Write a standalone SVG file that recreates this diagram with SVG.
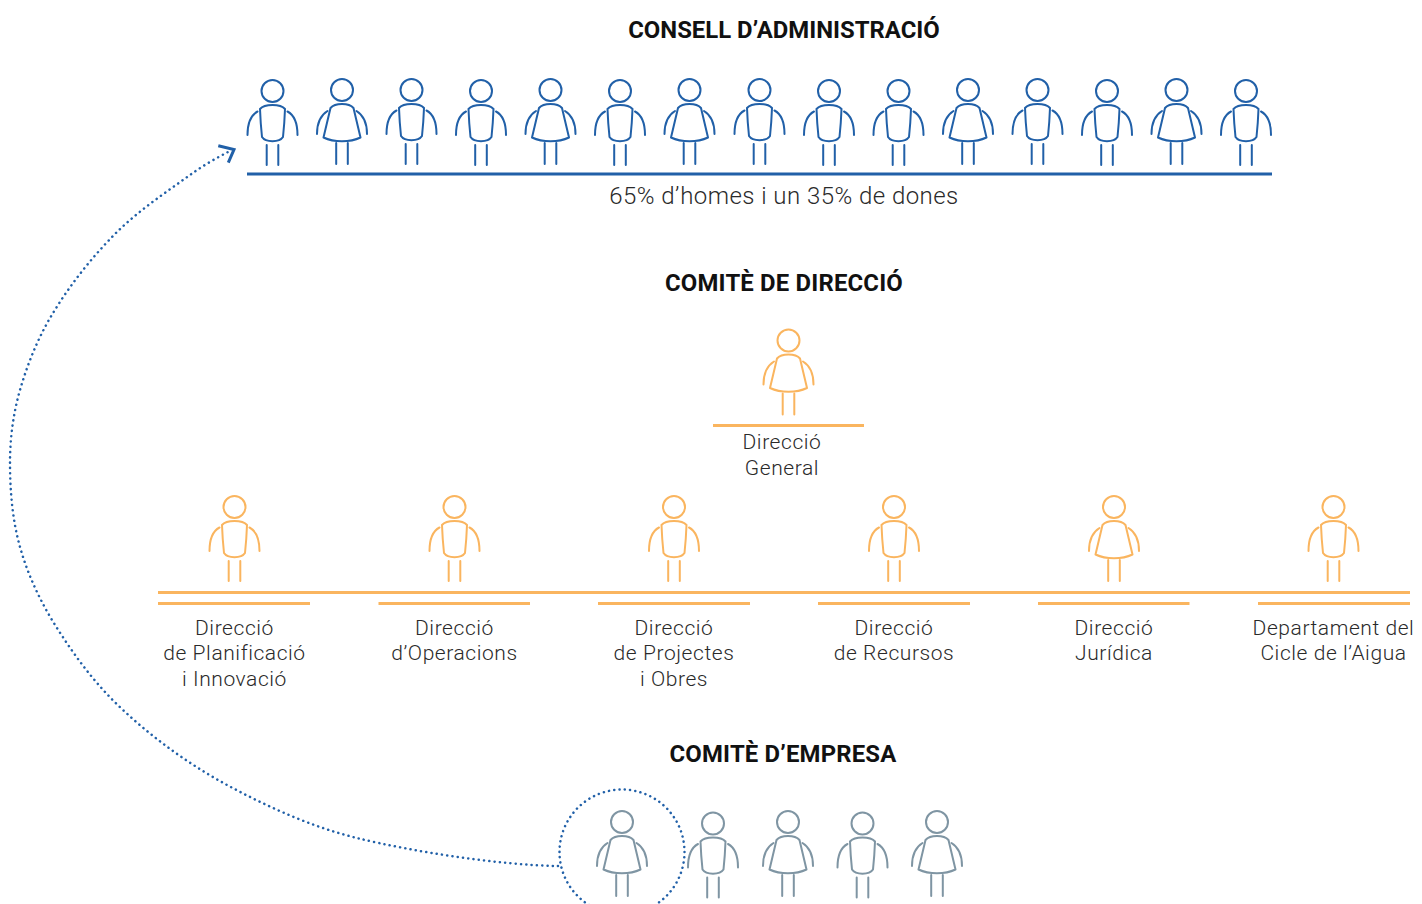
<svg xmlns="http://www.w3.org/2000/svg" width="1422" height="904" viewBox="0 0 1422 904">
<style>
.p{fill:none;stroke-width:2;stroke-linecap:round;stroke-linejoin:round}
.b{stroke:#2160a8}.o{stroke:#fab55f}.g{stroke:#7f95a3}
.t{font-family:"Roboto","Liberation Sans",sans-serif;font-weight:700;font-size:23.900px;fill:#111;text-anchor:middle}
.s{letter-spacing:.18px}
.l{font-family:"Roboto","Liberation Sans",sans-serif;font-weight:300;font-size:21px;fill:#2a2a2a;text-anchor:middle;letter-spacing:.57px}
.r{fill:none;stroke-width:3;stroke-linecap:butt}
.d{fill:none;stroke:#2160a8;stroke-width:2.500;stroke-dasharray:.1 5.200;stroke-linecap:round}
</style>
<defs>
<g id="m"><circle cx="0" cy="0" r="11"/><path d="M-12.500 18C-8 12.500 8 12.500 12.500 18Q12 32 10.500 46C7 51.500-7 51.500-10.500 46Q-12 32-12.500 18Z"/><path d="M-15 20.500C-21.500 24-25 33-25 44M15 20.500C21.500 24 25 33 25 44M-5.800 54V74M5.800 54V74"/></g>
<g id="f"><circle cx="0" cy="0" r="11"/><path d="M-11.500 18C-7 12.500 7 12.500 11.500 18L18.500 47.500C8 52.500-8 52.500-18.500 47.500Z"/><path d="M-14.500 21C-21 25-25 33-25 44M14.500 21C21 25 25 33 25 44M-5.800 53V74M5.800 53V74"/></g>
</defs>
<text class="t" x="784" y="38">CONSELL D’ADMINISTRACIÓ</text>
<text class="t s" x="784" y="291">COMITÈ DE DIRECCIÓ</text>
<text class="t s" x="783" y="762">COMITÈ D’EMPRESA</text>
<g id="board" class="p b">
<use href="#m" x="272.500" y="91"/><use href="#f" x="342" y="90"/><use href="#m" x="411.500" y="90"/><use href="#m" x="481" y="91"/><use href="#f" x="550.500" y="90"/><use href="#m" x="620" y="91"/><use href="#f" x="689.500" y="90"/><use href="#m" x="759.500" y="90"/><use href="#m" x="829" y="91"/><use href="#m" x="898.500" y="91"/><use href="#f" x="968" y="90"/><use href="#m" x="1037.500" y="90"/><use href="#m" x="1107" y="91"/><use href="#f" x="1176.500" y="90"/><use href="#m" x="1246" y="91"/>
<path class="r" d="M247 174H1272"/>
</g>
<text class="l" x="784" y="204" style="font-size:24px;letter-spacing:.45px">65% d’homes i un 35% de dones</text>
<g id="direccio-general" class="p o">
<use href="#f" x="788.500" y="340.500"/><path class="r" d="M713 425.500H864"/>
</g>
<text class="l" x="782" y="449">Direcció</text><text class="l" x="782" y="475">General</text>
<g id="direccions" class="p o">
<use href="#m" x="234.500" y="507"/><use href="#m" x="454.500" y="507"/><use href="#m" x="674" y="507"/><use href="#m" x="894" y="507"/><use href="#f" x="1114" y="507"/><use href="#m" x="1333.500" y="507"/>
<path class="r" d="M158 592.500H1410M158 603.500H310M378.500 603.500H530M598 603.500H750M818 603.500H970M1038 603.500H1189.500M1258 603.500H1410"/>
</g>
<text class="l" x="234.500" y="635">Direcció</text><text class="l" x="234.500" y="660">de Planificació</text><text class="l" x="234.500" y="686">i Innovació</text>
<text class="l" x="454.500" y="635">Direcció</text><text class="l" x="454.500" y="660">d’Operacions</text>
<text class="l" x="674" y="635">Direcció</text><text class="l" x="674" y="660">de Projectes</text><text class="l" x="674" y="686">i Obres</text>
<text class="l" x="894" y="635">Direcció</text><text class="l" x="894" y="660">de Recursos</text>
<text class="l" x="1114" y="635">Direcció</text><text class="l" x="1114" y="660">Jurídica</text>
<text class="l" x="1333.500" y="635">Departament del</text><text class="l" x="1333.500" y="660">Cicle de l’Aigua</text>
<g id="empresa" class="p g">
<use href="#f" x="622" y="822"/><use href="#m" x="713" y="823.500"/><use href="#f" x="788" y="822"/><use href="#m" x="862.500" y="823.500"/><use href="#f" x="937" y="822"/>
</g>
<g id="connectors">
<circle class="d" cx="622" cy="852" r="62.500"/>
<path class="d" d="M558 866C498 865 412 851.500 357 838C312 827 268 807 227 785C189.500 764.500 154 739 123 710C97 686 76 658 57 628C41 603 28 575.500 20 547C12.300 519.600 10 490.500 10 462C10 438 13.300 413.400 20 390C27.800 363 38.400 337 53 313C70.300 284.500 91.500 257.700 115 234C137.300 211.500 164.300 193.400 190 175C203 165.500 218 157 232 150"/>
<path d="M218.300 145.700L234 149.500L228.300 162.700" fill="none" stroke="#2160a8" stroke-width="3"/>
</g>
</svg>
